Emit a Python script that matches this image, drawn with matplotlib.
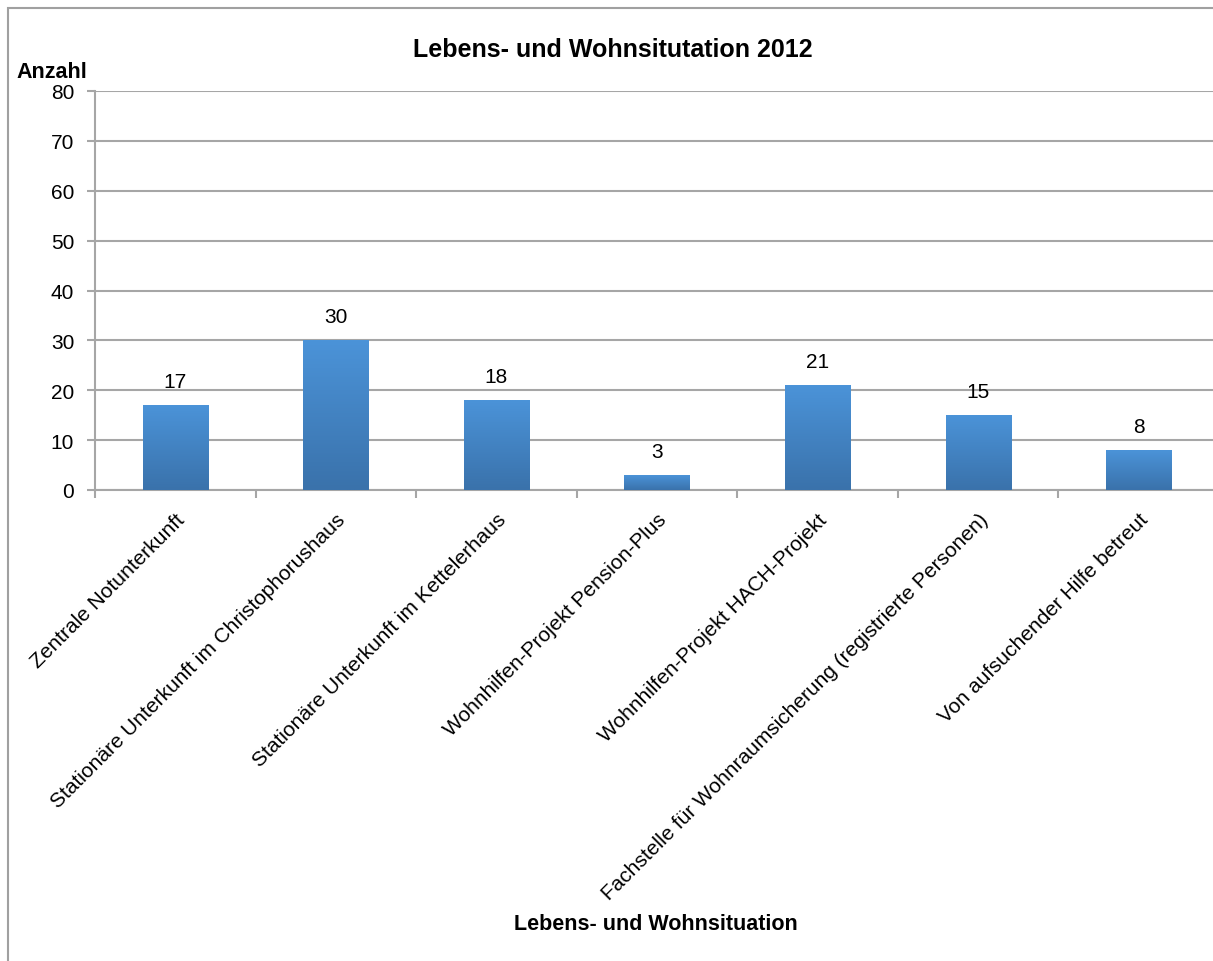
import numpy as np
import matplotlib.pyplot as plt
from matplotlib.patches import Rectangle
from matplotlib.colors import LinearSegmentedColormap

plt.rcParams['font.family'] = ['Liberation Sans', 'DejaVu Sans']

## Data ##
categories = [
    "Zentrale Notunterkunft",
    "Stationäre Unterkunft im Christophorushaus",
    "Stationäre Unterkunft im Kettelerhaus",
    "Wohnhilfen-Projekt Pension-Plus",
    "Wohnhilfen-Projekt HACH-Projekt",
    "Fachstelle für Wohnraumsicherung (registrierte Personen)",
    "Von aufsuchender Hilfe betreut",
]
values = [17, 30, 18, 3, 21, 15, 8]
y_ticks = [0, 10, 20, 30, 40, 50, 60, 70, 80]

TITLE = "Lebens- und Wohnsitutation 2012"
GRAY = "#a6a6a6"

fig = plt.figure(figsize=(12.13, 9.62), dpi=100)
W, H = 1213, 962
ax = fig.add_axes([95 / W, 1 - 491 / H, 1124 / W, 399 / H])

x = np.arange(len(categories))
bars = ax.bar(x, values, width=0.405, color="none", edgecolor="none", zorder=3)

# vertical gradient inside every bar
grad = LinearSegmentedColormap.from_list("bar", ["#3a72ab", "#4b93d8"])
for b in bars:
    x0, w, h = b.get_x(), b.get_width(), b.get_height()
    im = ax.imshow(np.linspace(0, 1, 64).reshape(-1, 1), cmap=grad, origin="lower",
                   extent=(x0, x0 + w, 0, h), aspect="auto", zorder=3)
    im.set_clip_path(b)

for xi, v in zip(x, values):
    ax.annotate(str(v), (xi, v), xytext=(0, 10), textcoords="offset points",
                ha="center", va="bottom", fontsize=15)

ax.set_xlim(-0.5, len(categories) - 0.5)
ax.set_ylim(0, 80)
ax.set_yticks(y_ticks)
ax.tick_params(axis="y", labelsize=15, length=6, color=GRAY, width=1.5, pad=9)
ax.yaxis.grid(True, color=GRAY, linewidth=1.5, zorder=0)
ax.set_axisbelow(True)

ax.set_xticks(x)
ax.set_xticklabels(categories, rotation=45, ha="right", rotation_mode="anchor", fontsize=15)
ax.tick_params(axis="x", which="major", length=0, pad=14)
ax.set_xticks(np.arange(-0.5, len(categories), 1), minor=True)
ax.tick_params(axis="x", which="minor", length=6, color=GRAY, width=1.5)

for s in ["top", "right"]:
    ax.spines[s].set_visible(False)
for s in ["left", "bottom"]:
    ax.spines[s].set_color(GRAY)
    ax.spines[s].set_linewidth(1.5)

fig.text(613 / W, 1 - 50 / H, TITLE, ha="center", va="center", fontsize=18, fontweight="bold")
fig.text(52 / W, 1 - 73 / H, "Anzahl", ha="center", va="center", fontsize=15.5, fontweight="bold")
fig.text(656 / W, 1 - 925 / H, "Lebens- und Wohnsituation", ha="center", va="center",
         fontsize=15.5, fontweight="bold")

# chart frame
fig.patches.append(Rectangle((8 / W, -0.1), 1.2, 1 - 9 / H + 0.1, transform=fig.transFigure,
                             fill=False, edgecolor="#a0a0a0", linewidth=1.5))

fig.savefig("out.png", dpi=100)
